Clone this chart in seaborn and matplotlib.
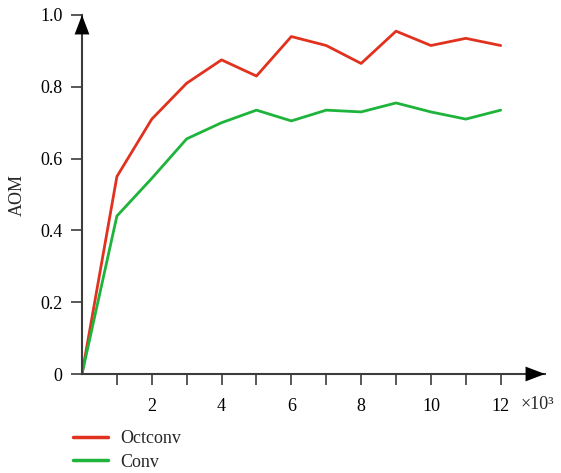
import matplotlib

matplotlib.use("Agg")
import matplotlib.pyplot as plt
import pandas as pd
import seaborn as sns

steps = [0, 1, 2, 3, 4, 5, 6, 7, 8, 9, 10, 11, 12]
octconv = [0.0, 0.55, 0.71, 0.81, 0.875, 0.83, 0.94, 0.915, 0.865, 0.955, 0.915, 0.935, 0.915]
conv = [0.0, 0.44, 0.545, 0.655, 0.70, 0.735, 0.705, 0.735, 0.73, 0.755, 0.73, 0.71, 0.735]
series_names = ["Octconv", "Conv"]
colors = ["#e0321e", "#1eb43c"]
x_tick_labels = ["", "2", "", "4", "", "6", "", "8", "", "10", "", "12"]
y_ticks = [0, 0.2, 0.4, 0.6, 0.8, 1.0]
y_tick_labels = ["0", "0.2", "0.4", "0.6", "0.8", "1.0"]

df = pd.DataFrame(
    {
        "step": steps * 2,
        "aom": octconv + conv,
        "model": [series_names[0]] * len(steps) + [series_names[1]] * len(steps),
    }
)

sns.set_theme(style="white")
plt.rcParams["font.family"] = ["Liberation Serif", "DejaVu Serif"]
axis_color = "#3c3c3c"

fig = plt.figure(figsize=(5.61, 4.73), dpi=100)
ax = fig.add_axes([82 / 561, 99 / 473, (545 - 82) / 561, (374 - 15) / 473])

sns.lineplot(
    data=df,
    x="step",
    y="aom",
    hue="model",
    palette=colors,
    linewidth=2,
    ax=ax,
    legend=False,
)

ax.set_xlim(0, 13.27)
ax.set_ylim(0, 1.0)
ax.set_xticks(range(1, 13))
ax.set_xticklabels(x_tick_labels)
ax.set_yticks(y_ticks)
ax.set_yticklabels(y_tick_labels)
ax.set_xlabel("")
ax.set_ylabel("AOM", fontsize=13, labelpad=10)

for side in ["top", "right"]:
    ax.spines[side].set_visible(False)
for side in ["left", "bottom"]:
    ax.spines[side].set_color(axis_color)
    ax.spines[side].set_linewidth(1.5)

ax.tick_params(
    axis="both",
    direction="out",
    length=8,
    width=1.2,
    color=axis_color,
    labelsize=13,
    labelcolor="black",
    bottom=True,
    left=True,
)
ax.tick_params(axis="x", pad=9)
ax.tick_params(axis="y", pad=6)

arrow = dict(arrowstyle="-|>,head_length=1.0,head_width=0.38", color="black",
             lw=0, shrinkA=0, shrinkB=0, mutation_scale=14)
ax.annotate("", xy=(1, 0), xytext=(0.95, 0), xycoords="axes fraction",
            arrowprops=arrow, annotation_clip=False)
ax.annotate("", xy=(0, 1), xytext=(0, 0.95), xycoords="axes fraction",
            arrowprops=arrow, annotation_clip=False)

fig.text(521 / 561, 1 - 404 / 473, "×10³", fontsize=13, va="center", ha="left")

handles = [plt.Line2D([], [], color=c, lw=2.5) for c in colors]
fig.legend(
    handles,
    series_names,
    loc="upper left",
    bbox_to_anchor=(66 / 561, 1 - 423 / 473),
    frameon=False,
    fontsize=13,
    handlelength=1.9,
    handletextpad=0.7,
    labelspacing=0.35,
    borderaxespad=0,
)

fig.savefig("out.png", dpi=100)
